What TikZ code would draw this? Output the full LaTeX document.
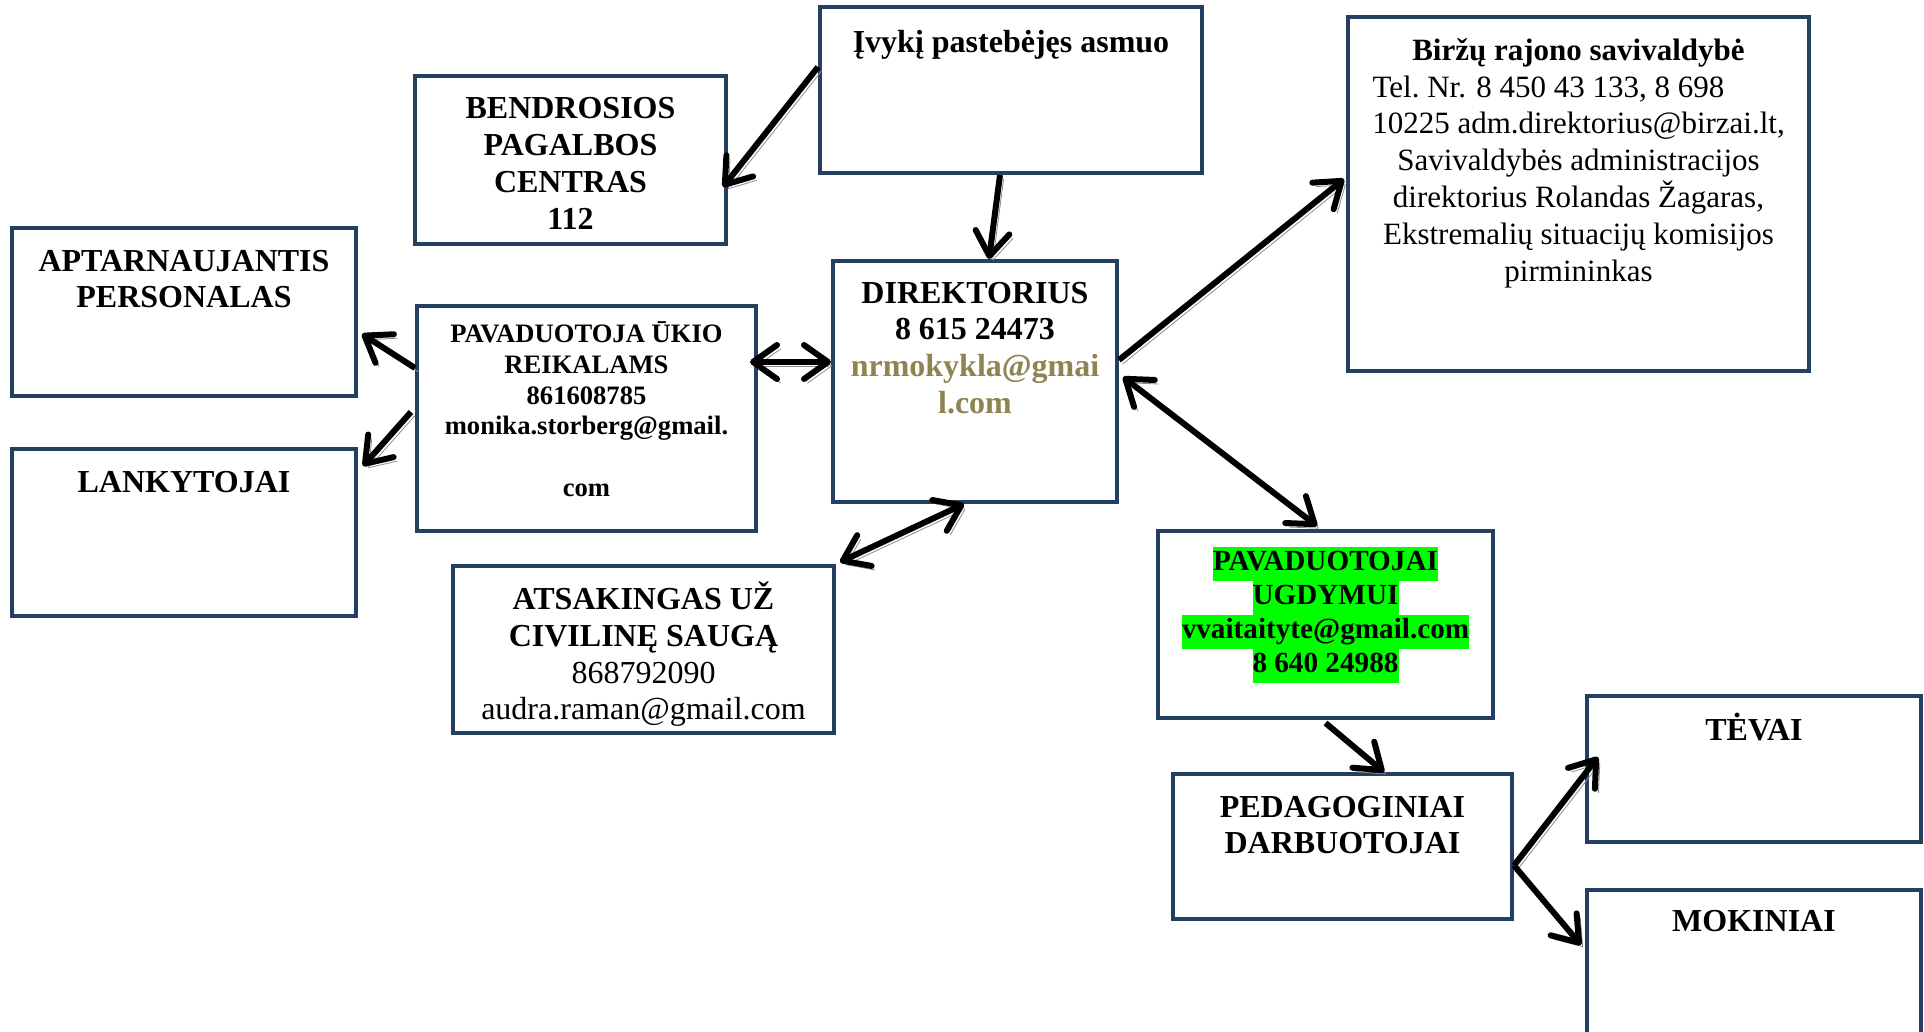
\documentclass[tikz,border=0pt]{standalone}
\usepackage{fontspec}
\setmainfont{Liberation Serif}
\usepackage{tikz}
\usetikzlibrary{positioning,arrows.meta}

\definecolor{boxblue}{HTML}{243F60}
\definecolor{mailolive}{HTML}{8F8450}
\definecolor{hlgreen}{HTML}{00FF00}
\newcommand{\hlg}[1]{{\setlength{\fboxsep}{0pt}\colorbox{hlgreen}{\strut #1}}}

\begin{document}
\begin{tikzpicture}[
x = 0.5pt, y = -0.5pt,
box/.style = {draw = boxblue, line width = 2pt, fill = white, inner sep = 0pt},
txt/.style = {align = center, inner sep = 0pt, font = \fontsize{16}{18.4}\selectfont\bfseries},
arr/.style = {line width = 3pt, -{Straight Barb[length = 12pt, width = 17pt, line cap = round, line join = round]},
	preaction = {draw = black!45, transform canvas = {shift = {(1.8pt,-2pt)}}}},
darr/.style = {arr, {Straight Barb[length = 12pt, width = 17pt, line cap = round, line join = round]}-{Straight Barb[length = 12pt, width = 17pt, line cap = round, line join = round]}}
]
\useasboundingbox (0,0) rectangle (1924,1032);
\clip (0,0) rectangle (1924,1032);

\node[box, minimum width = 191pt, minimum height = 83pt] (ivykis) at (1011,90) {};
\node[box, minimum width = 155.5pt, minimum height = 84pt] (pagalba) at (570.5,160) {};
\node[box, minimum width = 230.5pt, minimum height = 177pt] (birzai) at (1578.5,194) {};
\node[box, minimum width = 172pt, minimum height = 84pt] (aptarn) at (184,312) {};
\node[box, minimum width = 172pt, minimum height = 83.5pt] (lankyt) at (184,532.5) {};
\node[box, minimum width = 169.5pt, minimum height = 112.5pt] (ukio) at (586.5,418.5) {};
\node[box, minimum width = 142pt, minimum height = 120.5pt] (direkt) at (975,381.5) {};
\node[box, minimum width = 190.5pt, minimum height = 83.5pt] (sauga) at (643.5,649.5) {};
\node[box, minimum width = 167.5pt, minimum height = 93.5pt] (ugdym) at (1325.5,624.5) {};
\node[box, minimum width = 169.5pt, minimum height = 72.5pt] (pedag) at (1342.5,846.5) {};
\node[box, minimum width = 167pt, minimum height = 73pt] (tevai) at (1754,769) {};
\node[box, minimum width = 167pt, minimum height = 85pt] (mokin) at (1754,975) {};

\node[txt, below = 12.2pt of ivykis.north] (ivykis-t) {Įvykį pastebėjęs asmuo};
\node[txt, below = 11.7pt of pagalba.north] (pagalba-t) {BENDROSIOS\\PAGALBOS\\CENTRAS\\112};
\node[txt, below = 11.5pt of birzai.north, font = \fontsize{15.5}{18.4}\selectfont] (birzai-t)
	{\textbf{Biržų rajono savivaldybė}\\Tel.\ Nr. 8 450 43 133, 8 698\rule{30pt}{0pt}\\10225 adm.direktorius@birzai.lt,\\Savivaldybės administracijos\\direktorius Rolandas Žagaras,\\Ekstremalių situacijų komisijos\\pirmininkas};
\node[txt, below = 11.8pt of aptarn.north] (aptarn-t) {APTARNAUJANTIS\\PERSONALAS};
\node[txt, below = 11.8pt of lankyt.north] (lankyt-t) {LANKYTOJAI};
\node[txt, below = 8.7pt of ukio.north, font = \fontsize{13.3}{15.35}\selectfont\bfseries] (ukio-t)
	{PAVADUOTOJA ŪKIO\\REIKALAMS\\861608785\\monika.storberg@gmail.\\~\\com};
\node[txt, below = 11.3pt of direkt.north] (direkt-t)
	{DIREKTORIUS\\8 615 24473\\\textcolor{mailolive}{nrmokykla@gmai}\\\textcolor{mailolive}{l.com}};
\node[txt, below = 8.7pt of sauga.north] (sauga-t)
	{ATSAKINGAS UŽ\\CIVILINĘ SAUGĄ\\{\mdseries 868792090}\\{\mdseries audra.raman@gmail.com}};
\node[txt, below = 8.8pt of ugdym.north, font = \fontsize{14.6}{17}\selectfont\bfseries] (ugdym-t)
	{\hlg{PAVADUOTOJAI}\\\hlg{UGDYMUI}\\\hlg{vvaitaityte@gmail.com}\\\hlg{8 640 24988}};
\node[txt, below = 11.8pt of pedag.north] (pedag-t) {PEDAGOGINIAI\\DARBUOTOJAI};
\node[txt, below = 9.5pt of tevai.north] (tevai-t) {TĖVAI};
\node[txt, below = 10.9pt of mokin.north] (mokin-t) {MOKINIAI};

\draw[arr] ([yshift = 11.5pt]ivykis.west) -- ([xshift = -2.5pt, yshift = -13.5pt]pagalba.east);
\draw[arr] ([xshift = -5.5pt]ivykis.south) -- ([xshift = 7pt]direkt.north);
\draw[arr] ([yshift = 10.75pt]direkt.east) -- ([xshift = -1pt, yshift = 7.5pt]birzai.west);
\draw[darr] ([xshift = 2pt, yshift = 2.25pt]direkt.east) -- ([xshift = -4.25pt, yshift = 1.5pt]ugdym.north);
\draw[darr] ([xshift = -4pt, yshift = 28.25pt]ukio.east) -- ([yshift = 9.75pt]direkt.west);
\draw[darr] ([xshift = -5.5pt]direkt.south) -- ([xshift = 2pt, yshift = 1pt]sauga.north east);
\draw[arr] ([yshift = 25.25pt]ukio.west) -- ([xshift = 2pt, yshift = -11pt]aptarn.east);
\draw[arr] ([xshift = -2pt, yshift = 3.25pt]ukio.west) -- ([xshift = 2.5pt, yshift = 33.25pt]lankyt.east);
\draw[arr] ([yshift = -1.5pt]ugdym.south) -- ([xshift = 20.75pt]pedag.north);
\draw[arr] ([yshift = -9.5pt]pedag.east) -- ([xshift = 6.5pt, yshift = 6pt]tevai.west);
\draw[arr] ([yshift = -9.5pt]pedag.east) -- ([xshift = -2pt, yshift = 15pt]mokin.west);
\end{tikzpicture}
\end{document}
